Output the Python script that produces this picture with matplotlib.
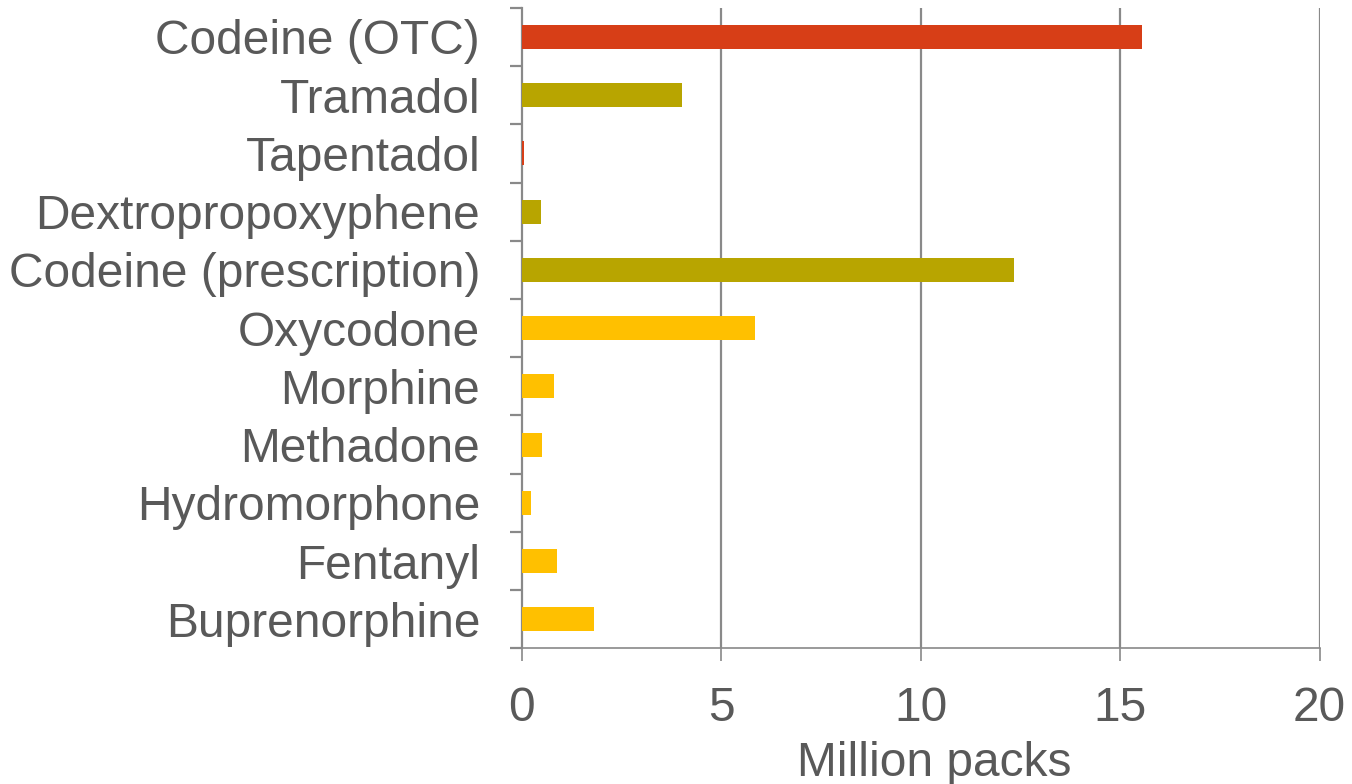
import matplotlib.pyplot as plt

plt.rcParams['font.family'] = ['Liberation Sans', 'DejaVu Sans']

drugs = ["Codeine (OTC)", "Tramadol", "Tapentadol", "Dextropropoxyphene",
         "Codeine (prescription)", "Oxycodone", "Morphine", "Methadone",
         "Hydromorphone", "Fentanyl", "Buprenorphine"]
packs = [15.55, 4.02, 0.05, 0.49, 12.33, 5.84, 0.81, 0.50, 0.23, 0.88, 1.81]
colors = ["#D73E17", "#B8A500", "#D73E17", "#B8A500", "#B8A500",
          "#FFC000", "#FFC000", "#FFC000", "#FFC000", "#FFC000", "#FFC000"]

grey = "#898989"
text_col = "#595959"
fs = 34.5

fig = plt.figure(figsize=(13.52, 7.84), dpi=100)
ax = fig.add_axes([0.386, 0.173, 0.59, 0.817])

y = list(range(len(drugs)))
ax.barh(y, packs, height=0.41, color=colors, zorder=3)
ax.set_ylim(len(drugs) - 0.5, -0.5)
ax.set_xlim(0, 20)

ax.set_xticks([0, 5, 10, 15, 20])
ax.set_yticks(y)
ax.set_yticklabels(drugs)
ax.set_yticks([i - 0.5 for i in range(len(drugs) + 1)], minor=True)

# vertical gridlines
for x in [5, 10, 15, 20]:
    ax.axvline(x, color=grey, linewidth=1.6, zorder=1)

ax.tick_params(axis='y', which='major', length=0, pad=30, labelsize=fs, labelcolor=text_col)
ax.tick_params(axis='y', which='minor', length=9, width=1.6, color=grey, direction='out')
ax.tick_params(axis='x', which='major', length=9, width=1.2, color=grey, pad=18,
               labelsize=fs, labelcolor=text_col)

for s in ['top', 'right']:
    ax.spines[s].set_visible(False)
ax.spines['left'].set_color(grey)
ax.spines['left'].set_linewidth(1.6)
ax.spines['bottom'].set_color(grey)
ax.spines['bottom'].set_linewidth(1.2)

ax.set_xlabel("Million packs", fontsize=fs, color=text_col, labelpad=7, x=0.5175)

fig.savefig("out.png", dpi=100)
